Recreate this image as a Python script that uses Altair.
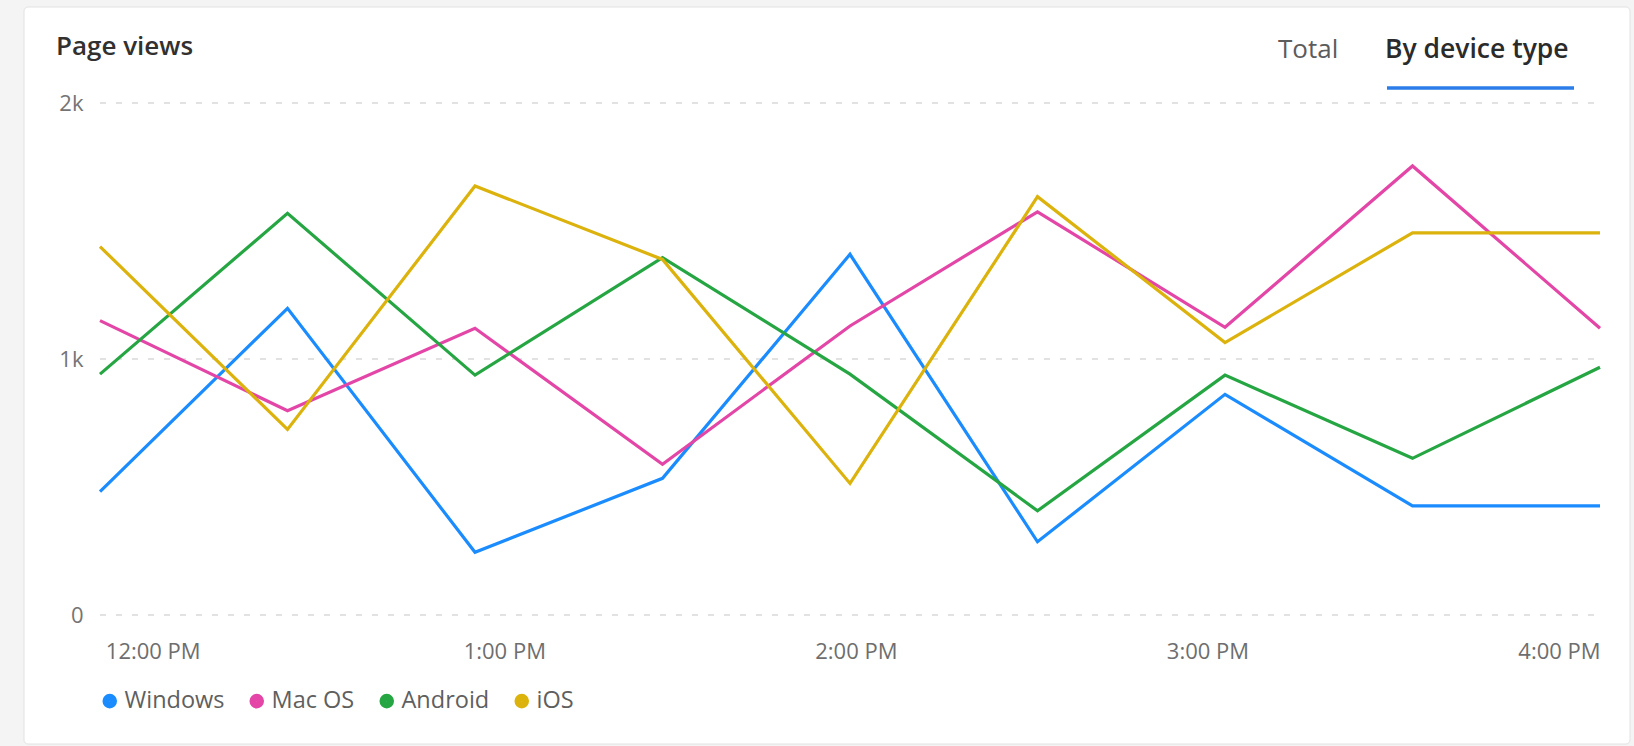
import altair as alt
import pandas as pd

# ---- data ----
times = ["2024-01-01T11:51:00", "2024-01-01T12:23:00", "2024-01-01T12:55:00",
         "2024-01-01T13:27:00", "2024-01-01T13:59:00", "2024-01-01T14:31:00",
         "2024-01-01T15:03:00", "2024-01-01T15:35:00", "2024-01-01T16:07:00"]
tick_hours = [12, 13, 14, 15, 16]
devices = ["Windows", "Mac OS", "Android", "iOS"]
colors = ["#1b8cff", "#e346a6", "#26a643", "#dcb20c"]
windows = [482, 1198, 245, 534, 1409, 286, 862, 426, 426]
mac_os = [1150, 798, 1120, 589, 1129, 1575, 1124, 1754, 1120]
android = [941, 1569, 937, 1396, 941, 407, 937, 612, 968]
ios = [1439, 725, 1676, 1389, 514, 1634, 1064, 1493, 1493]
y_ticks = [0, 1000, 2000]
title_text = ["Page views"]
tab_total = ["Total"]
tab_device = ["By device type"]

series = {"Windows": windows, "Mac OS": mac_os, "Android": android, "iOS": ios}
rows = []
for d in devices:
    for t, v in zip(times, series[d]):
        rows.append({"time": t, "device": d, "views": v})
df = pd.DataFrame(rows)

FONT = "Open Sans"
one = pd.DataFrame({"k": [0]})

yscale = alt.Scale(domain=[0, 2000], nice=False)
yaxis = alt.Axis(title=None, values=y_ticks,
                 labelExpr="datum.value == 0 ? '0' : (datum.value / 1000) + 'k'",
                 labelFontSize=22, labelColor="#747474", labelFont=FONT,
                 labelPadding=17, ticks=False, domain=False, grid=False, zindex=2)

card = alt.Chart(one).mark_rect(
    fill="white", stroke="#e2e2e2", strokeWidth=1, cornerRadius=4
).encode(x=alt.value(-76), x2=alt.value(1530), y=alt.value(-96), y2=alt.value(641))

grid = alt.Chart(pd.DataFrame({"views": y_ticks})).mark_rule(
    color="#d9d9d9", strokeWidth=1.5, strokeDash=[6, 10]
).encode(
    y=alt.Y("views:Q", scale=yscale, axis=yaxis),
    x=alt.value(0), x2=alt.value(1500),
)

x_values = [alt.DateTime(year=2024, month=1, date=1, hours=h) for h in tick_hours]

lines = alt.Chart(df).mark_line(strokeWidth=3.2).encode(
    x=alt.X("time:T",
            scale=alt.Scale(nice=False, padding=0),
            axis=alt.Axis(title=None, format="%-I:%M %p", values=x_values,
                          labelFontSize=22, labelColor="#6e6e6e", labelFont=FONT,
                          labelPadding=26, ticks=False, domain=False, grid=False,
                          labelFlush=False, labelOverlap=False, zindex=2)),
    y=alt.Y("views:Q", scale=yscale, axis=yaxis),
    color=alt.Color("device:N",
                    scale=alt.Scale(domain=devices, range=colors),
                    sort=devices,
                    legend=alt.Legend(orient="none", legendX=-2, legendY=586,
                                      direction="horizontal", title=None,
                                      symbolType="circle", symbolSize=50,
                                      symbolStrokeWidth=7.5,
                                      labelFontSize=23.5, labelColor="#5f5f5f",
                                      labelFont=FONT, labelOffset=3,
                                      columnPadding=13, padding=0)),
    order=alt.Order("time:T"),
)

title = alt.Chart(pd.DataFrame({"t": title_text})).mark_text(
    align="left", baseline="alphabetic", fontSize=26, fontWeight=600,
    color="#323130", font=FONT
).encode(text="t:N", x=alt.value(-44), y=alt.value(-48))

total = alt.Chart(pd.DataFrame({"t": tab_total})).mark_text(
    align="left", baseline="alphabetic", fontSize=26, fontWeight=400,
    color="#5c5c5c", font=FONT
).encode(text="t:N", x=alt.value(1178), y=alt.value(-45))

bydev = alt.Chart(pd.DataFrame({"t": tab_device})).mark_text(
    align="left", baseline="alphabetic", fontSize=26.5, fontWeight=600,
    color="#2b2b2b", font=FONT
).encode(text="t:N", x=alt.value(1285), y=alt.value(-45))

underline = alt.Chart(one).mark_rule(color="#2b7de9", strokeWidth=3.5).encode(
    x=alt.value(1287), x2=alt.value(1474), y=alt.value(-15)
)

chart = alt.layer(card, grid, lines, title, total, bydev, underline).properties(
    width=1500, height=512,
    padding={"left": 100, "top": 103, "right": 34, "bottom": 131},
    autosize=alt.AutoSizeParams(type="none"),
    background="#f4f4f4",
).configure_view(strokeWidth=0)

chart.save("out.html", embed_options={"renderer": "svg", "actions": False})
